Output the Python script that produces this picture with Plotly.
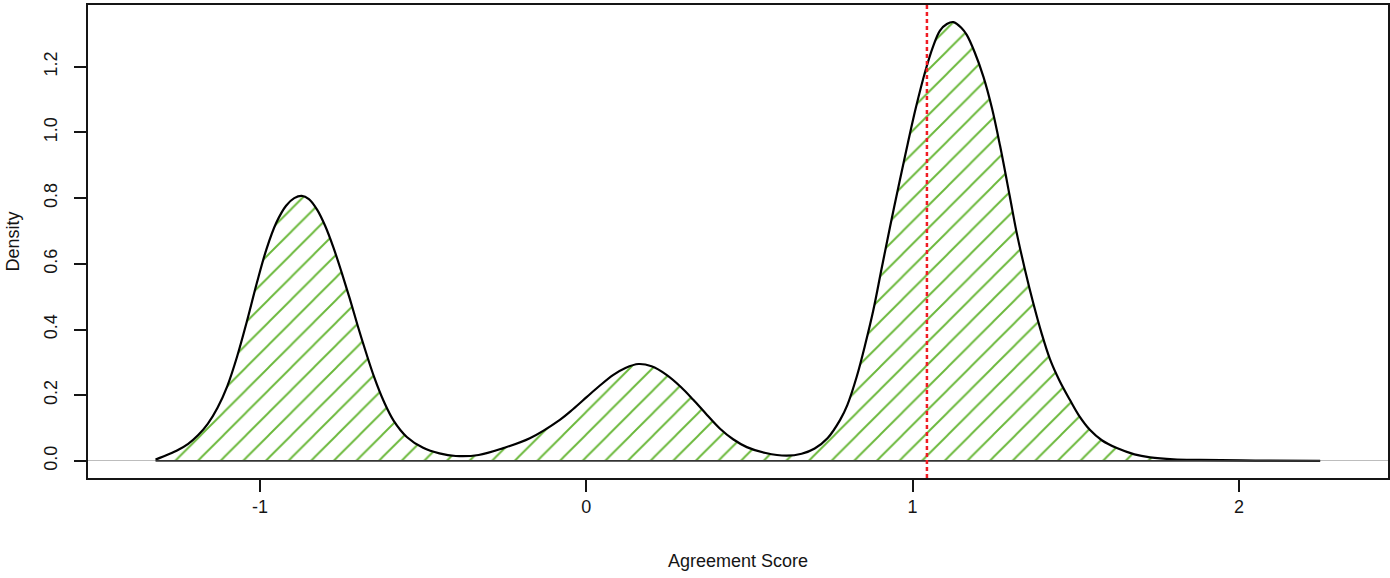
import plotly.graph_objects as go

# Density curve
score = [-1.32, -1.28, -1.25, -1.22, -1.19, -1.16, -1.13, -1.10, -1.07, -1.04,
         -1.01, -0.98, -0.95, -0.92, -0.895, -0.872, -0.85, -0.825, -0.80, -0.775,
         -0.75, -0.725, -0.70, -0.675, -0.65, -0.62, -0.59, -0.55, -0.50, -0.45,
         -0.40, -0.33, -0.254, -0.173, -0.081, -0.04, 0.001, 0.04, 0.083, 0.12,
         0.16, 0.20, 0.246, 0.29, 0.328, 0.37, 0.41, 0.45, 0.492, 0.55,
         0.614, 0.66, 0.70, 0.74, 0.778, 0.80, 0.829, 0.855, 0.88, 0.905,
         0.931, 0.96, 0.985, 1.01, 1.04, 1.063, 1.084, 1.105, 1.125, 1.15,
         1.166, 1.19, 1.217, 1.243, 1.268, 1.298, 1.319, 1.345, 1.37, 1.395,
         1.421, 1.45, 1.482, 1.51, 1.544, 1.58, 1.626, 1.68, 1.728, 1.80,
         1.881, 2.05, 2.249]
density = [0.004, 0.020, 0.034, 0.052, 0.078, 0.113, 0.162, 0.228, 0.318, 0.425,
           0.540, 0.645, 0.725, 0.777, 0.800, 0.807, 0.797, 0.765, 0.715, 0.650,
           0.575, 0.495, 0.410, 0.330, 0.255, 0.180, 0.122, 0.073, 0.040, 0.023,
           0.015, 0.018, 0.039, 0.069, 0.125, 0.158, 0.194, 0.228, 0.262, 0.283,
           0.295, 0.288, 0.262, 0.225, 0.186, 0.140, 0.098, 0.066, 0.042, 0.024,
           0.016, 0.022, 0.038, 0.070, 0.125, 0.170, 0.257, 0.355, 0.460, 0.585,
           0.713, 0.850, 0.965, 1.075, 1.190, 1.262, 1.310, 1.330, 1.336, 1.318,
           1.297, 1.245, 1.170, 1.075, 0.960, 0.805, 0.695, 0.580, 0.480, 0.390,
           0.310, 0.245, 0.186, 0.138, 0.094, 0.063, 0.039, 0.020, 0.011, 0.005,
           0.003, 0.001, 0.0]
ref_value = 1.044
x_ticks = [-1, 0, 1, 2]
x_tick_labels = ["-1", "0", "1", "2"]
y_ticks = [0.0, 0.2, 0.4, 0.6, 0.8, 1.0, 1.2]
y_tick_labels = ["0.0", "0.2", "0.4", "0.6", "0.8", "1.0", "1.2"]

FONT = "Liberation Sans, Arial, sans-serif"
INK = "#151515"

fig = go.Figure()

# hatched fill + curve
fig.add_trace(go.Scatter(
    x=score, y=density, mode="lines",
    line=dict(color="black", width=2.2, shape="spline", smoothing=1.0),
    fill="tozeroy",
    fillpattern=dict(shape="/", fgcolor="#6ab83a", fgopacity=1,
                     bgcolor="rgba(0,0,0,0)", size=16, solidity=0.12),
    hoverinfo="skip", showlegend=False,
))

# polygon bottom edge
fig.add_trace(go.Scatter(
    x=[score[0], score[-1]], y=[0, 0], mode="lines",
    line=dict(color="#333333", width=1.8), hoverinfo="skip", showlegend=False,
))

# red dashed reference line
fig.add_shape(type="line", x0=ref_value, x1=ref_value, y0=0, y1=1,
              xref="x", yref="paper",
              line=dict(color="#f01c24", width=2.5, dash="4px,3px"))

fig.update_layout(
    width=1390, height=578,
    margin=dict(l=88, r=2, t=5, b=100),
    paper_bgcolor="white", plot_bgcolor="white",
    font=dict(family=FONT, size=18, color=INK),
    xaxis=dict(
        range=[-1.527, 2.457], tickvals=x_ticks, ticktext=x_tick_labels,
        ticks="outside", ticklen=12, tickwidth=1.5, tickcolor=INK,
        showline=True, mirror=True, linecolor=INK, linewidth=1.5,
        showgrid=False, zeroline=False, automargin=False,
        title=dict(text="Agreement Score", standoff=38, font=dict(size=18)),
        tickfont=dict(size=18),
    ),
    yaxis=dict(
        range=[-0.052, 1.388], tickvals=y_ticks, ticktext=y_tick_labels,
        ticks="outside", ticklen=12, tickwidth=1.5, tickcolor=INK,
        showline=True, mirror=True, linecolor=INK, linewidth=1.5,
        showgrid=False, zeroline=True, zerolinecolor="#bdbdbd", zerolinewidth=1.2,
        tickangle=-90, ticklabelstandoff=10, automargin=False,
        title=dict(text="Density", standoff=17, font=dict(size=18)),
        tickfont=dict(size=18),
    ),
)

fig.write_html("out.html", config={"displayModeBar": False},
               post_script="document.body.style.margin='0px';document.body.style.overflow='hidden';")
